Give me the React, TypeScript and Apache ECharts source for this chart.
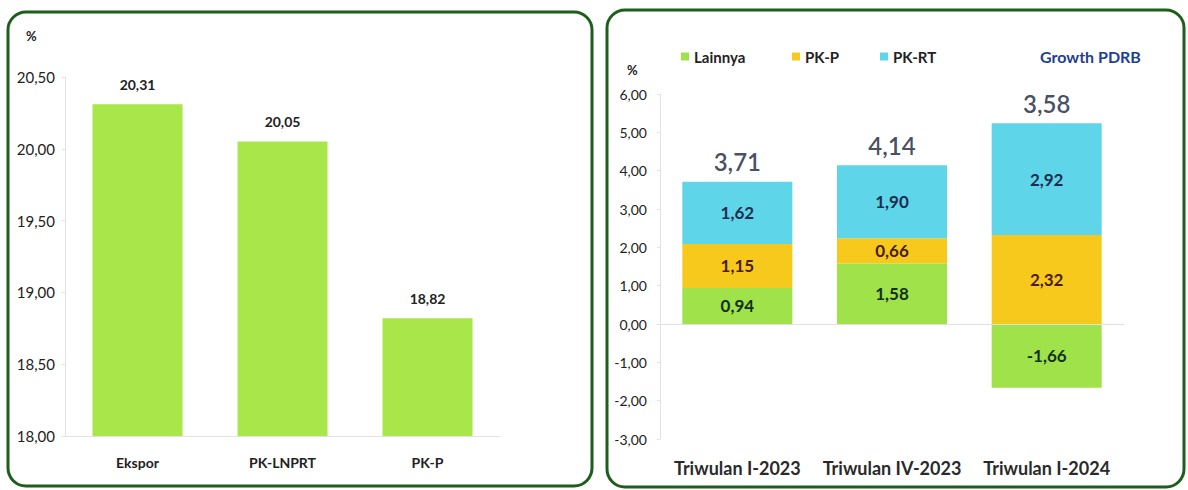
import React, { useEffect, useRef } from "react";
import * as echarts from "echarts";

// Left chart data
const leftCategories = ["Ekspor", "PK-LNPRT", "PK-P"];
const leftValues = [20.31, 20.05, 18.82];

// Right chart data
const rightCategories = ["Triwulan I-2023", "Triwulan IV-2023", "Triwulan I-2024"];
const lainnya = [0.94, 1.58, -1.66];
const pkp = [1.15, 0.66, 2.32];
const pkrt = [1.62, 1.9, 2.92];
const growthPDRB = [3.71, 4.14, 3.58];

const FONT = "Lato";
const fmt = (v: number) => v.toFixed(2).replace(".", ",");

export default function App() {
  const ref = useRef<HTMLDivElement>(null);
  useEffect(() => {
    document.body.style.margin = "0";
    const chart = echarts.init(ref.current!, null, { renderer: "svg" });
    const stackTops = lainnya.map((_, i) =>
      [lainnya[i], pkp[i], pkrt[i]].filter((v) => v > 0).reduce((a, b) => a + b, 0)
    );
    const legendText = { fontFamily: FONT, fontWeight: "bold" as const, fontSize: 15, color: "#222" };
    const inBarLabel = (color: string) => ({
      show: true,
      position: "inside" as const,
      fontFamily: FONT,
      fontWeight: "bold" as const,
      fontSize: 17,
      color,
      formatter: (p: any) => fmt(p.value),
    });
    chart.setOption({
      animation: false,
      backgroundColor: "#fff",
      textStyle: { fontFamily: FONT },
      graphic: [
        {
          type: "rect",
          shape: { x: 8, y: 12, width: 584, height: 474, r: 18 },
          style: { fill: "none", stroke: "#1d5e1d", lineWidth: 3 },
        },
        {
          type: "rect",
          shape: { x: 607, y: 10, width: 577, height: 477, r: 18 },
          style: { fill: "none", stroke: "#1d5e1d", lineWidth: 3 },
        },
        {
          type: "text",
          x: 26,
          y: 29,
          style: { text: "%", fontFamily: FONT, fontWeight: "bold", fontSize: 13, fill: "#222" },
        },
        {
          type: "text",
          x: 627,
          y: 63,
          style: { text: "%", fontFamily: FONT, fontWeight: "bold", fontSize: 13, fill: "#222" },
        },
      ],
      legend: [
        {
          data: [{ name: "Lainnya", icon: "rect" }],
          left: 676,
          top: 44,
          itemWidth: 8,
          itemHeight: 8,
          itemGap: 4,
          textStyle: legendText,
        },
        {
          data: [{ name: "PK-P", icon: "rect" }],
          left: 787,
          top: 44,
          itemWidth: 8,
          itemHeight: 8,
          textStyle: legendText,
        },
        {
          data: [{ name: "PK-RT", icon: "rect" }],
          left: 875,
          top: 44,
          itemWidth: 8,
          itemHeight: 8,
          textStyle: legendText,
        },
        {
          data: [{ name: "Growth PDRB", icon: "none" }],
          left: 1030,
          top: 43,
          itemWidth: 0,
          itemHeight: 0,
          textStyle: { ...legendText, fontSize: 16, color: "#1f3f91" },
        },
      ],
      grid: [
        { left: 65, width: 435, top: 77, height: 359 },
        { left: 660, width: 464, top: 94, height: 345 },
      ],
      xAxis: [
        {
          type: "category",
          gridIndex: 0,
          data: leftCategories,
          axisLine: { lineStyle: { color: "#e2e2e2" } },
          axisTick: { show: false },
          axisLabel: { margin: 19, fontFamily: FONT, fontWeight: "bold", fontSize: 14, color: "#222" },
        },
        {
          type: "category",
          gridIndex: 1,
          data: rightCategories,
          axisLine: { show: false, onZero: false },
          axisTick: { show: false },
          axisLabel: {
            interval: 0,
            margin: 20,
            fontFamily: FONT,
            fontWeight: "bold",
            fontSize: 18,
            color: "#2a2a2a",
          },
        },
      ],
      yAxis: [
        {
          type: "value",
          gridIndex: 0,
          min: 18,
          max: 20.5,
          interval: 0.5,
          axisLine: { show: true, lineStyle: { color: "#e2e2e2" } },
          axisTick: { show: true, length: 3, lineStyle: { color: "#e2e2e2" } },
          splitLine: { show: false },
          axisLabel: { margin: 10, fontFamily: FONT, fontSize: 15, color: "#222", formatter: fmt },
        },
        {
          type: "value",
          gridIndex: 1,
          min: -3,
          max: 6,
          interval: 1,
          axisLine: { show: true, lineStyle: { color: "#e2e2e2" } },
          axisTick: { show: true, length: 3, lineStyle: { color: "#e2e2e2" } },
          splitLine: { show: false },
          axisLabel: { margin: 13, fontFamily: FONT, fontSize: 14, color: "#222", formatter: fmt },
        },
      ],
      series: [
        {
          name: "Left",
          type: "bar",
          xAxisIndex: 0,
          yAxisIndex: 0,
          data: leftValues,
          barWidth: 90,
          itemStyle: { color: "#a8e64a" },
          label: {
            show: true,
            position: "top",
            distance: 13,
            fontFamily: FONT,
            fontWeight: "bold",
            fontSize: 14,
            color: "#222",
            formatter: (p: any) => fmt(p.value),
          },
        },
        {
          name: "Lainnya",
          type: "bar",
          stack: "total",
          xAxisIndex: 1,
          yAxisIndex: 1,
          data: lainnya,
          barWidth: 110,
          itemStyle: { color: "#9fe24a" },
          label: inBarLabel("#13301b"),
          markLine: {
            silent: true,
            symbol: "none",
            label: { show: false },
            lineStyle: { color: "#e0e0e0", type: "solid", width: 1 },
            data: [{ yAxis: 0 }],
          },
        },
        {
          name: "PK-P",
          type: "bar",
          stack: "total",
          xAxisIndex: 1,
          yAxisIndex: 1,
          data: pkp,
          barWidth: 110,
          itemStyle: { color: "#f6c91c" },
          label: inBarLabel("#4a1c12"),
        },
        {
          name: "PK-RT",
          type: "bar",
          stack: "total",
          xAxisIndex: 1,
          yAxisIndex: 1,
          data: pkrt,
          barWidth: 110,
          itemStyle: { color: "#5fd5ea" },
          label: inBarLabel("#1d2d4d"),
        },
        {
          name: "Growth PDRB",
          type: "scatter",
          xAxisIndex: 1,
          yAxisIndex: 1,
          data: stackTops,
          symbolSize: 0,
          itemStyle: { color: "#1f3f91" },
          label: {
            show: true,
            position: "top",
            distance: 8,
            fontFamily: FONT,
            fontWeight: 600,
            fontSize: 24,
            color: "#16213b",
            formatter: (p: any) => fmt(growthPDRB[p.dataIndex]),
          },
        },
      ],
    });
    return () => chart.dispose();
  }, []);
  return <div ref={ref} style={{ position: "absolute", left: 0, top: 0, width: 1188, height: 490 }} />;
}
